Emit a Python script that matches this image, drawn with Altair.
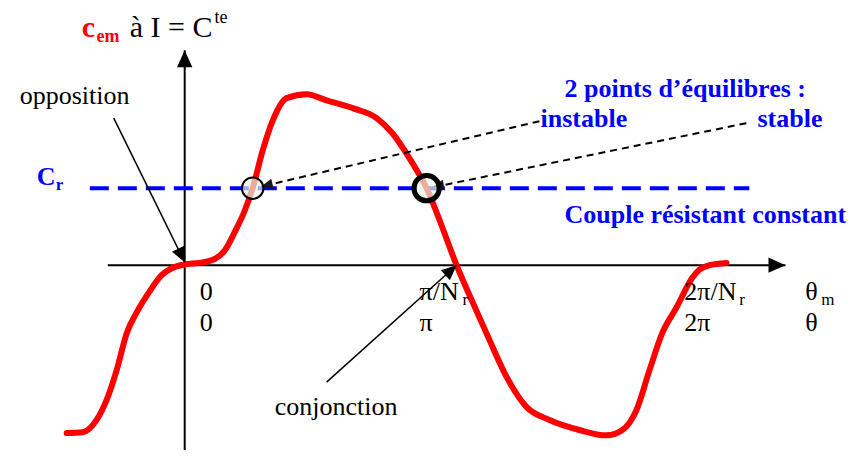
import altair as alt
import pandas as pd
import numpy as np

# ---- data (theta in units of pi, torque in units of C_r) ----
theta = [-0.434, -0.375, -0.324, -0.287, -0.25, -0.213, -0.176, -0.129, -0.085, -0.048,
         0.0, 0.055, 0.110, 0.147, 0.184, 0.221, 0.25, 0.287, 0.324, 0.375,
         0.449, 0.522, 0.618, 0.706, 0.765, 0.816, 0.864, 0.89, 0.938,
         1.0, 1.059, 1.121, 1.184, 1.257, 1.342, 1.452, 1.551, 1.610, 1.662,
         1.710, 1.757, 1.809, 1.868, 1.893, 1.930, 1.993]
cem = [-2.18, -2.17, -2.01, -1.75, -1.36, -0.88, -0.61, -0.34, -0.13, -0.04,
       0.01, 0.03, 0.08, 0.19, 0.43, 0.71, 1.0, 1.49, 1.88, 2.17,
       2.22, 2.14, 2.04, 1.91, 1.71, 1.45, 1.17, 1.0, 0.58,
       0.0, -0.48, -0.97, -1.45, -1.84, -2.01, -2.14, -2.21, -2.14, -1.88,
       -1.36, -0.88, -0.55, -0.16, -0.06, 0.0, 0.03]

cr_level = 1.0
cr_span = [-0.349, 2.077]

equilibrium_theta = [0.25, 0.89]   # instable, stable

# arrows: start (u, v) -> tip (u2, v2)
axis_u = [-0.283, 0.0]
axis_v = [0.0, -2.506]
axis_u2 = [2.210, 0.0]
axis_v2 = [0.0, 2.792]

solid_u = [-0.261, 0.522]        # opposition, conjonction
solid_v = [1.909, -1.519]
solid_u2 = [0.0, 1.0]
solid_v2 = [0.039, 0.0]

dashed_u = [1.305, 2.066]        # instable, stable
dashed_v = [1.870, 1.844]
dashed_u2 = [0.28, 0.91]
dashed_v2 = [1.02, 1.01]

# labels
plain_text = ["opposition", "conjonction", "0", "0", "π/N", "π", "2π/N", "2π", "θ", "θ"]
plain_u = [-0.607, 0.331, 0.055, 0.055, 0.864, 0.864, 1.838, 1.838, 2.283, 2.283]
plain_v = [2.091, -1.948, -0.455, -0.857, -0.455, -0.857, -0.455, -0.857, -0.455, -0.857]

sub_text = ["r", "r", "m"]
sub_u = [1.022, 2.040, 2.342]
sub_v = [-0.519, -0.519, -0.519]

blue_text = ["C", "2 points d’équilibres :", "instable", "stable", "Couple résistant constant"]
blue_u = [-0.544, 1.397, 1.309, 2.107, 1.397]
blue_v = [1.039, 2.182, 1.792, 1.792, 0.545]

blue_sub_text = ["r"]
blue_sub_u = [-0.474]
blue_sub_v = [0.974]

title_parts = ["c", "em", "à I = C", "te"]
title_u = [-0.379, -0.324, -0.202, 0.110]
title_v = [2.961, 2.896, 2.961, 3.143]

# ---- scales ----
U_DOMAIN = [-0.65, 2.44]
V_DOMAIN = [-2.40, 3.34]
W, H = 840, 442
PX_U = W / (U_DOMAIN[1] - U_DOMAIN[0])
PX_V = H / (V_DOMAIN[1] - V_DOMAIN[0])

xs = alt.Scale(domain=U_DOMAIN, nice=False, zero=False)
ys = alt.Scale(domain=V_DOMAIN, nice=False, zero=False)
FONT = "Liberation Serif"
ARROW = "M0,0L-0.45,1L0.45,1Z"


def X(f="u"):
    return alt.X(f"{f}:Q", scale=xs, axis=None)


def Y(f="v"):
    return alt.Y(f"{f}:Q", scale=ys, axis=None)


def arrow_df(u, v, u2, v2):
    df = pd.DataFrame({"u": u, "v": v, "u2": u2, "v2": v2})
    dx = (df.u2 - df.u) * PX_U
    dyup = (df.v2 - df.v) * PX_V
    df["angle"] = np.degrees(np.arctan2(dx, dyup)) % 360
    return df


def rules(df, **kw):
    return alt.Chart(df).mark_rule(color="black", **kw).encode(
        x=X("u"), y=Y("v"), x2=alt.X2("u2:Q"), y2=alt.Y2("v2:Q"))


def heads(df, size, color="black"):
    return alt.Chart(df).mark_point(shape=ARROW, filled=True, size=size, color=color,
                                    opacity=1, strokeWidth=0).encode(
        x=X("u2"), y=Y("v2"), angle=alt.Angle("angle:Q", scale=None))


def texts(t, u, v, size, color="black", weight="normal"):
    df = pd.DataFrame({"t": t, "u": u, "v": v})
    return alt.Chart(df).mark_text(align="left", baseline="alphabetic", font=FONT,
                                   fontSize=size, color=color, fontWeight=weight).encode(
        x=X(), y=Y(), text="t:N")


axes_df = arrow_df(axis_u, axis_v, axis_u2, axis_v2)
solid_df = arrow_df(solid_u, solid_v, solid_u2, solid_v2)
dashed_df = arrow_df(dashed_u, dashed_v, dashed_u2, dashed_v2)

curve = alt.Chart(pd.DataFrame({"u": theta, "v": cem})).mark_line(
    color="#ff0000", strokeWidth=6, interpolate="monotone", strokeCap="round").encode(
    x=X(), y=Y(), order="u:Q")

cr_line = alt.Chart(pd.DataFrame({"u": [cr_span[0]], "u2": [cr_span[1]], "v": [cr_level]})).mark_rule(
    color="#0000ff", strokeWidth=4, strokeDash=[19, 9]).encode(
    x=X(), x2=alt.X2("u2:Q"), y=Y())

eq_df = pd.DataFrame({"u": equilibrium_theta, "v": [cr_level, cr_level]})
circ_instable = alt.Chart(eq_df.iloc[[0]]).mark_point(
    shape="circle", size=460, filled=False, fill="#e2f5e2", fillOpacity=0.7,
    stroke="black", strokeWidth=2, opacity=1).encode(x=X(), y=Y())
circ_stable = alt.Chart(eq_df.iloc[[1]]).mark_point(
    shape="circle", size=640, filled=False, fill="#e2f5e2", fillOpacity=0.7,
    stroke="black", strokeWidth=5, opacity=1).encode(x=X(), y=Y())

chart = alt.layer(
    rules(axes_df, strokeWidth=2),
    heads(axes_df, 1156),
    cr_line,
    curve,
    rules(dashed_df, strokeWidth=2, strokeDash=[7, 5]),
    heads(dashed_df, 576, color="#1a1a1a"),
    circ_instable,
    circ_stable,
    rules(solid_df, strokeWidth=1.5),
    heads(solid_df, 900),
    texts(plain_text, plain_u, plain_v, 26),
    texts(sub_text, sub_u, sub_v, 17),
    texts(blue_text, blue_u, blue_v, 26, color="#0000ff", weight="bold"),
    texts(blue_sub_text, blue_sub_u, blue_sub_v, 17, color="#0000ff", weight="bold"),
    texts(title_parts[:1], title_u[:1], title_v[:1], 30, color="#ff0000", weight="bold"),
    texts(title_parts[1:2], title_u[1:2], title_v[1:2], 18, color="#ff0000", weight="bold"),
    texts(title_parts[2:3], title_u[2:3], title_v[2:3], 30),
    texts(title_parts[3:], title_u[3:], title_v[3:], 18),
).properties(width=W, height=H, autosize="none", padding=0).configure_view(stroke=None)

chart.save("out.html", embed_options={"renderer": "svg", "actions": False})
